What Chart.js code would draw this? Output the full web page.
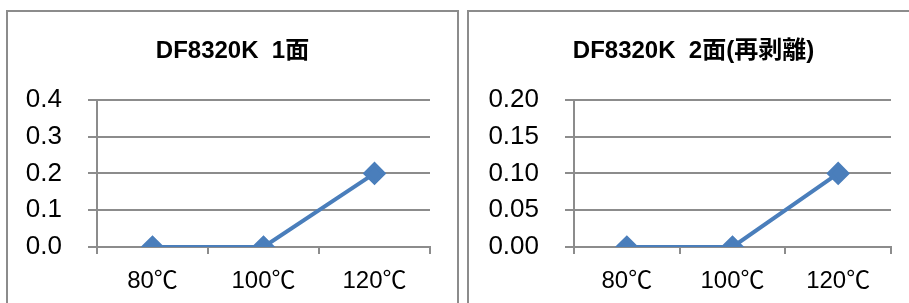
<!DOCTYPE html>
<html>
<head>
<meta charset="utf-8">
<script src="https://cdn.jsdelivr.net/npm/chart.js@4/dist/chart.umd.min.js"></script>
<style>
  body { margin: 0; background: #fff; width: 909px; height: 303px; overflow: hidden; position: relative; }
  .box { position: absolute; top: 10px; width: 453px; height: 300px; border: 2px solid #8c8c8c; border-bottom: none; box-sizing: border-box; }
  .box canvas { position: absolute; left: 0; top: 0; }
</style>
</head>
<body>
  <div class="box" style="left:6px"><canvas id="chart1" width="449" height="298"></canvas></div>
  <div class="box" style="left:467px"><canvas id="chart2" width="449" height="298"></canvas></div>
<script>
// Data
const temps = ['80℃', '100℃', '120℃'];
const side1 = [0, 0, 0.2];
const side2 = [0, 0, 0.1];
const titles = ['DF8320K  1面', 'DF8320K  2面(再剥離)'];
const yMax = [0.4, 0.2];
const yStep = [0.1, 0.05];
const yDecimals = [1, 2];

const fontFamily = '"Liberation Sans", "Noto Sans CJK JP", sans-serif';
const lineColor = '#4a7ebb';
const gridColor = '#8c8c8c';

function makeChart(id, values, idx, yWidth) {
  const ctx = document.getElementById(id).getContext('2d');
  return new Chart(ctx, {
    type: 'line',
    data: {
      labels: temps,
      datasets: [{
        data: values,
        borderColor: lineColor,
        backgroundColor: lineColor,
        borderWidth: 4,
        pointStyle: 'rectRot',
        pointRadius: 9,
        pointHoverRadius: 9,
        tension: 0
      }]
    },
    options: {
      responsive: false,
      animation: false,
      layout: { padding: 0 },
      plugins: {
        legend: { display: false },
        tooltip: { enabled: false },
        title: {
          display: true,
          text: titles[idx],
          color: '#000',
          font: { family: fontFamily, size: 24, weight: 'bold' },
          padding: { top: 25, bottom: 34 }
        }
      },
      scales: {
        x: {
          offset: true,
          grid: { display: true, drawOnChartArea: false, color: gridColor, lineWidth: 2, tickLength: 7, offset: true },
          border: { color: gridColor, width: 2 },
          ticks: { color: '#000', font: { family: fontFamily, size: 24 }, padding: 13, maxRotation: 0 },
          afterFit: scale => { scale.height = 63; }
        },
        y: {
          min: 0,
          max: yMax[idx],
          grid: { color: gridColor, lineWidth: 2, tickLength: 9 },
          border: { color: gridColor, width: 2 },
          ticks: {
            stepSize: yStep[idx],
            color: '#000',
            font: { family: fontFamily, size: 26 },
            padding: 26,
            callback: v => Number(v).toFixed(yDecimals[idx])
          },
          afterFit: scale => { scale.width = yWidth; }
        },
        // empty right-hand axis: leaves blank space right of the plot
        // while the title stays centred on the whole box
        spacer: {
          position: 'right',
          grid: { display: false },
          border: { display: false },
          ticks: { display: false },
          afterFit: scale => { scale.width = 27; }
        }
      }
    }
  });
}

makeChart('chart1', side1, 0, 89);
makeChart('chart2', side2, 1, 105);
</script>
</body>
</html>
